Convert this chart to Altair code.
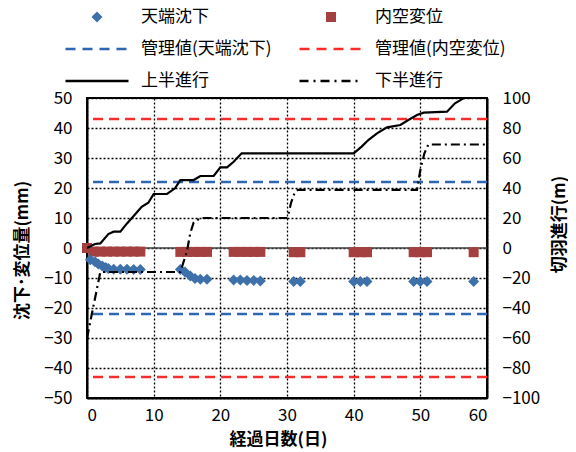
import altair as alt
import pandas as pd

FONT = "Noto Sans CJK JP"

# 天端沈下 (mm)
crown_day = [0.5, 1.2, 1.7, 2.3, 2.8, 3.2, 4, 5, 6, 7, 8,
             14, 14.7, 15.5, 16.2, 17, 18,
             22, 23, 24, 25, 26,
             31, 32, 40, 41, 42, 49, 50, 51, 58]
crown_mm = [-3.9, -4.6, -5.3, -6.0, -6.5, -6.8, -7.1, -7.1, -7.1, -7.2, -7.2,
            -7.2, -8.0, -9.3, -10.2, -10.4, -10.4,
            -10.7, -10.7, -10.8, -10.8, -11.0,
            -11.2, -11.2, -11.2, -11.2, -11.2, -11.2, -11.2, -11.2, -11.2]

# 内空変位 (mm)
conv_day = [0, 1, 2, 3, 4, 5, 6, 7, 8,
            14, 15, 16, 17, 18,
            22, 23, 24, 25, 26,
            31, 32, 40, 41, 42, 49, 50, 51, 58]
conv_mm = [0, -1.2, -1.2, -1.2, -1.2, -1.2, -1.2, -1.2, -1.2,
           -1.3, -1.3, -1.3, -1.3, -1.3,
           -1.3, -1.3, -1.3, -1.3, -1.3,
           -1.4, -1.4, -1.4, -1.4, -1.4, -1.4, -1.4, -1.4, -1.4]

# 上半進行 (m)
upper_day = [0, 1.2, 2, 3.2, 4, 5, 6, 7, 8.2, 9.2, 10, 12, 13.2, 14, 16, 17, 19,
             20, 21, 22, 23.2, 40, 41.2, 42.2, 43.5, 45, 47, 48.2, 49.5, 50.5,
             54, 55.2, 56.2, 57, 58]
upper_m = [0, 2.7, 3.1, 9.3, 10.9, 10.9, 16.4, 21.3, 27.5, 30.2, 36, 36, 39.8, 45.3,
           45.3, 48, 48, 53.8, 53.8, 57.5, 63.1, 63.1, 67.6, 72, 76.4, 80.4, 82,
           85.3, 88.7, 90.2, 90.9, 96.5, 99.1, 101, 102]

# 下半進行 (m)
lower_day = [0, 2, 14, 15, 15.5, 16, 17, 30, 30.3, 30.6, 31.2, 31.6, 49.5, 50, 50.6,
             51.2, 60]
lower_m = [-60, -16, -16, -2, 10, 17, 20, 20, 24, 30, 37.5, 38.7, 38.7, 52, 63,
           69, 69]

# 管理値
crown_limit = [22, -22]
conv_limit = [43, -43]
zero_line = [0]

legend_labels = ["天端沈下", "内空変位", "管理値(天端沈下)", "管理値(内空変位)",
                 "上半進行", "下半進行"]

BLUE_PT = "#3E70A9"
RED_PT = "#A4403F"
BLUE_LN = "#2F65B5"
RED_LN = "#FF2B2B"

x_scale = alt.Scale(domain=[0, 60], nice=False)
x_axis = alt.Axis(values=list(range(0, 61, 10)), title="経過日数(日)",
                  grid=True, gridDash=[2, 2], gridColor="black", gridWidth=1.3,
                  gridOpacity=1, domainColor="black", domainWidth=2,
                  ticks=False, labelPadding=9, labelFontSize=17,
                  labelColor="black", titleFontSize=17, titleFontWeight="bold",
                  titleColor="black", titleX=191, titleY=41,
                  titleBaseline="middle", orient="bottom")
yl_scale = alt.Scale(domain=[-50, 50], nice=False)
yl_axis = alt.Axis(values=list(range(-50, 51, 10)), title="沈下･変位量(mm)",
                   grid=True, gridDash=[2, 2], gridColor="black", gridWidth=1.3,
                   gridOpacity=1, domainColor="black", domainWidth=2,
                   ticks=False, labelPadding=15, labelFontSize=17,
                   labelColor="black", titleFontSize=17, titleFontWeight="bold",
                   titleColor="black", titleX=-65, titleY=152, titleAngle=270,
                   titleBaseline="middle", orient="left")
yr_scale = alt.Scale(domain=[-100, 100], nice=False)
yr_axis = alt.Axis(values=list(range(-100, 101, 20)), title="切羽進行(m)",
                   grid=False, domainColor="black", domainWidth=2,
                   ticks=False, labelPadding=15, labelFontSize=17,
                   labelColor="black", titleFontSize=17, titleFontWeight="bold",
                   titleColor="black", titleX=72, titleY=126, titleAngle=270,
                   titleBaseline="middle", orient="right")

crown_df = pd.DataFrame({"day": crown_day, "mm": crown_mm})
conv_df = pd.DataFrame({"day": conv_day, "mm": conv_mm})
upper_df = pd.DataFrame({"day": upper_day, "m": upper_m})
lower_df = pd.DataFrame({"day": lower_day, "m": lower_m})
crown_lim_df = pd.DataFrame({"mm": crown_limit})
conv_lim_df = pd.DataFrame({"mm": conv_limit})
zero_df = pd.DataFrame({"mm": zero_line})

X = alt.X("day:Q", scale=x_scale, axis=x_axis)
YL = alt.Y("mm:Q", scale=yl_scale, axis=yl_axis)
YR = alt.Y("m:Q", scale=yr_scale, axis=yr_axis)

crown_lim = alt.Chart(crown_lim_df).mark_rule(
    color=BLUE_LN, strokeWidth=2.5, strokeDash=[10, 6]).encode(y=YL)
conv_lim = alt.Chart(conv_lim_df).mark_rule(
    color=RED_LN, strokeWidth=2.5, strokeDash=[10, 6]).encode(y=YL)
zero = alt.Chart(zero_df).mark_rule(color="#444444", strokeWidth=1.5).encode(y=YL)
conv_pts = alt.Chart(conv_df).mark_point(
    shape="square", filled=True, size=100, color=RED_PT, opacity=1).encode(x=X, y=YL)
crown_pts = alt.Chart(crown_df).mark_point(
    shape="diamond", filled=True, size=120, color=BLUE_PT, opacity=1).encode(x=X, y=YL)

left = alt.layer(crown_lim, conv_lim, zero, conv_pts, crown_pts)

upper = alt.Chart(upper_df).mark_line(
    color="black", strokeWidth=2.2, clip=True).encode(x=X, y=YR)
lower = alt.Chart(lower_df).mark_line(
    color="black", strokeWidth=2.2, strokeDash=[9, 4, 2, 4], clip=True).encode(x=X, y=YR)
right = alt.layer(upper, lower)

main = alt.layer(left, right).resolve_scale(y="independent")

# legend
leg_df = pd.DataFrame({"label": legend_labels})
leg_df["col"] = [i % 2 for i in range(len(legend_labels))]
leg_df["row"] = [i // 2 for i in range(len(legend_labels))]

LX = alt.X("col:Q", scale=alt.Scale(domain=[0, 1], range=[10, 244]), axis=None)
LY = alt.Y("row:Q", scale=alt.Scale(domain=[0, 2], range=[-81, -17]), axis=None)


def leg_item(label):
    return alt.Chart(leg_df).transform_filter(alt.datum.label == label)


leg_layers = [
    leg_item(legend_labels[0]).mark_point(shape="diamond", filled=True, size=120,
                                          color=BLUE_PT, opacity=1, dx=2).encode(x=LX, y=LY),
    leg_item(legend_labels[1]).mark_point(shape="square", filled=True, size=100,
                                          color=RED_PT, opacity=1, dx=2).encode(x=LX, y=LY),
    leg_item(legend_labels[2]).mark_point(shape="stroke", filled=False, size=3969,
                                          color=BLUE_LN, strokeWidth=2.5,
                                          strokeDash=[10, 7], opacity=1).encode(x=LX, y=LY),
    leg_item(legend_labels[3]).mark_point(shape="stroke", filled=False, size=3969,
                                          color=RED_LN, strokeWidth=2.5,
                                          strokeDash=[10, 7], opacity=1).encode(x=LX, y=LY),
    leg_item(legend_labels[4]).mark_point(shape="stroke", filled=False, size=3969,
                                          color="black", strokeWidth=2.5,
                                          opacity=1).encode(x=LX, y=LY),
    leg_item(legend_labels[5]).mark_point(shape="stroke", filled=False, size=3969,
                                          color="black", strokeWidth=2.5,
                                          strokeDash=[9, 5, 2, 5], opacity=1).encode(x=LX, y=LY),
    alt.Chart(leg_df).mark_text(align="left", baseline="middle", dx=44, fontSize=17,
                                color="black", font=FONT).encode(x=LX, y=LY, text="label:N"),
]
legend = alt.layer(*leg_layers)

chart = alt.layer(main, legend).resolve_scale(x="independent", y="independent").properties(
    width=400, height=300,
    autosize=alt.AutoSizeParams(type="none"),
    padding={"left": 79, "top": 90, "right": 81, "bottom": 52},
).configure(font=FONT).configure_view(stroke="black", strokeWidth=2)

chart.save("out.html", embed_options={"renderer": "svg", "actions": False})
